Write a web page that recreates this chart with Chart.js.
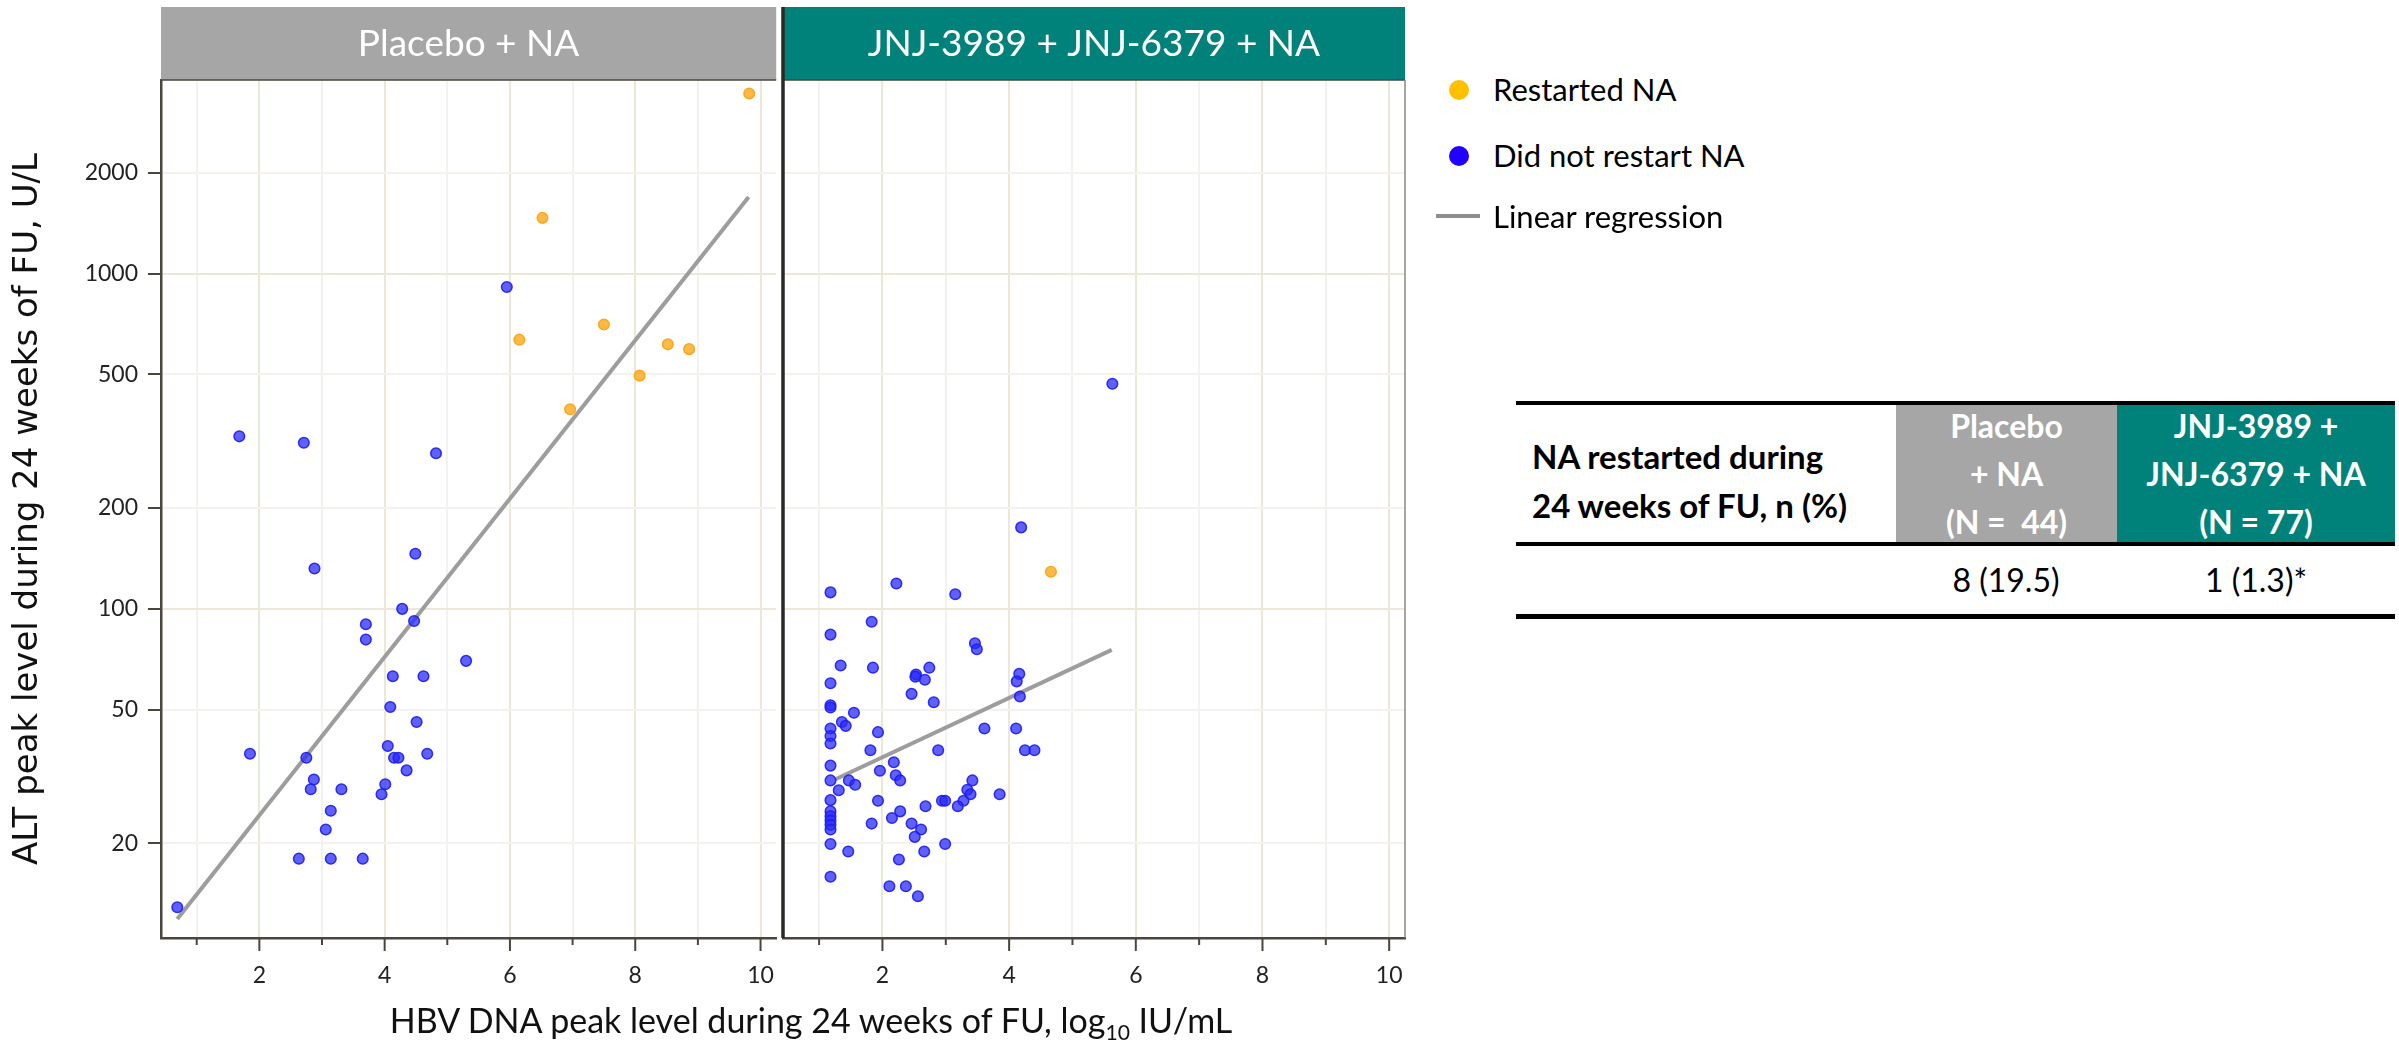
<!DOCTYPE html>
<html>
<head>
<meta charset="utf-8">
<script src="https://cdn.jsdelivr.net/npm/chart.js@4.4.1/dist/chart.umd.min.js"></script>
<style>
  html, body { margin: 0; padding: 0; background: #fff; }
  body { width: 2399px; height: 1041px; position: relative; overflow: hidden; font-family: Lato, "Open Sans", sans-serif; color: #000; }
  canvas { position: absolute; top: 0; }
  #leftChart { left: 0; }
  #rightChart { left: 763px; }
  .abs { position: absolute; }
  #xTitle { left: 361px; top: 1002px; width: 900px; text-align: center; font-size: 34px; line-height: 36px; color: #111; white-space: nowrap; }
  #xTitle sub { font-size: 0.62em; vertical-align: -0.35em; line-height: 0; }
  .dot { position: absolute; width: 20px; height: 20px; border-radius: 50%; }
  .lg { position: absolute; left: 1493px; font-size: 31px; line-height: 36px; transform: translateY(-50%); white-space: nowrap; }
  .rule { position: absolute; left: 1516px; width: 879px; background: #000; }
  .cell { position: absolute; top: 405px; height: 138px; color: #fff; font-weight: 700; font-size: 32px; line-height: 48px; text-align: center; display: flex; flex-direction: column; justify-content: center; }
  .rowlbl { position: absolute; left: 1532px; top: 432px; font-weight: 700; font-size: 33px; line-height: 49px; white-space: nowrap; }
  .val { position: absolute; top: 562px; font-size: 32px; line-height: 36px; text-align: center; white-space: nowrap; }
</style>
</head>
<body>
<canvas id="leftChart" width="783" height="1041"></canvas>
<canvas id="rightChart" width="680" height="1041"></canvas>

<div id="xTitle" class="abs">HBV DNA peak level during 24 weeks of FU, log<sub>10</sub> IU/mL</div>

<!-- legend -->
<div class="dot" style="left:1449px; top:80px; background:#ffc000;"></div>
<div class="lg" style="top:89px;">Restarted NA</div>
<div class="dot" style="left:1449px; top:146px; background:#2200ff;"></div>
<div class="lg" style="top:155px;">Did not restart NA</div>
<div class="abs" style="left:1436px; top:214px; width:44px; height:4px; background:#8e8e8e;"></div>
<div class="lg" style="top:216px;">Linear regression</div>

<!-- summary table -->
<div class="rule" style="top:401px; height:4px;"></div>
<div class="cell" style="left:1896px; width:221px; background:#a6a6a6;"><div>Placebo</div><div>+ NA</div><div>(N =&nbsp; 44)</div></div>
<div class="cell" style="left:2117px; width:278px; background:#00827a;"><div>JNJ-3989 +</div><div>JNJ-6379 + NA</div><div>(N = 77)</div></div>
<div class="rowlbl">NA restarted during<br>24 weeks of FU, n (%)</div>
<div class="rule" style="top:542px; height:4px;"></div>
<div class="val" style="left:1906px; width:200px;">8 (19.5)</div>
<div class="val" style="left:2156px; width:200px;">1 (1.3)*</div>
<div class="rule" style="top:614px; height:5px;"></div>

<script>
// values
const xTickValues = [1, 2, 3, 4, 5, 6, 7, 8, 9, 10];
const yTickValues = [20, 50, 100, 200, 500, 1000, 2000];
const panelTitles = ["Placebo + NA", "JNJ-3989 + JNJ-6379 + NA"];

// Placebo + NA panel
const placeboRestartX = [9.82, 6.52, 6.15, 7.50, 8.52, 8.86, 8.07, 6.96];
const placeboRestartY = [3440, 1465, 635, 705, 615, 595, 496, 394];
const placeboNoRestartX = [5.95, 1.68, 2.71, 4.82, 4.49, 2.88, 4.28, 4.47, 3.70, 3.70, 5.30,
  4.13, 4.62, 4.09, 4.51, 1.85, 2.75, 4.05, 4.15, 4.22, 4.68, 4.35, 2.87, 2.82, 3.31, 4.01,
  3.95, 3.14, 3.06, 2.63, 3.14, 3.65, 0.69];
const placeboNoRestartY = [912, 327, 313, 291, 146, 132, 100, 92, 90, 81, 70,
  63, 63, 51, 46, 37, 36, 39, 36, 36, 37, 33, 31, 29, 29, 30,
  28, 25, 22, 18, 18, 18, 12.9];
const placeboFitX = [0.69, 9.81];
const placeboFitY = [11.9, 1690];

// JNJ-3989 + JNJ-6379 + NA panel
const activeRestartX = [4.66];
const activeRestartY = [129];
const activeNoRestartX = [5.63, 4.19, 1.18, 2.22, 3.15,
  1.83, 1.18, 3.46, 3.49, 1.34, 1.85, 2.74, 2.53, 2.52, 2.67, 4.16, 4.12, 1.18, 2.46, 4.17,
  2.81, 1.18, 1.18, 1.55, 1.36, 1.42, 1.18, 1.18, 1.18, 1.93, 3.61, 4.11, 1.81, 2.88, 4.25,
  4.40, 1.18, 2.18,
  1.96, 1.18, 1.47, 1.57, 1.31, 2.21, 2.28, 3.42, 3.34, 3.39, 3.28, 3.19, 2.94, 2.99, 3.85,
  1.93, 2.68, 1.18, 1.18, 1.18, 1.18, 1.18, 1.18, 1.18, 2.28, 2.15, 2.46, 2.61, 2.51, 1.83,
  2.99, 1.46, 2.66, 2.26, 1.18, 2.11, 2.37, 2.56];
const activeNoRestartY = [469, 175, 112, 119, 110.6,
  91.6, 83.8, 79.0, 75.8, 67.8, 66.8, 66.8, 63.7, 62.8, 61.5, 64.0, 60.8, 60.0, 55.8, 54.8,
  52.7, 51.6, 50.8, 49.0, 46.0, 44.8, 44.0, 41.8, 39.7, 42.9, 44.0, 44.0, 37.9, 37.9, 37.9,
  37.9, 34.1, 34.9,
  32.9, 30.8, 30.8, 29.9, 28.8, 31.9, 30.8, 30.8, 28.9, 28.0, 26.8, 25.8, 26.8, 26.8, 28.0,
  26.8, 25.8, 26.9, 24.9, 24.1, 23.4, 22.7, 22.0, 19.9, 24.9, 23.8, 22.9, 22.0, 20.9, 22.9,
  19.9, 18.9, 18.9, 17.9, 15.9, 14.9, 14.9, 13.9];
const activeFitX = [1.25, 5.62];
const activeFitY = [31, 75.5];

const ORANGE = "rgba(255,168,22,0.8)";
const BLUE = "rgba(40,40,255,0.74)";
const AXIS_DARK = "#4a463d";

function toPoints(xs, ys) {
  return xs.map((x, i) => ({ x: x, y: ys[i] }));
}

// header strip, x tick marks and frame lines
const panelDecor = {
  id: "panelDecor",
  afterDraw(chart, args, opts) {
    const { ctx, chartArea: a } = chart;
    const xs = chart.scales.x;
    ctx.save();
    ctx.fillStyle = opts.color;
    ctx.fillRect(a.left, 7, a.right - a.left, a.top - 7);
    ctx.fillStyle = "#fff";
    ctx.font = "37px Lato";
    ctx.textAlign = "center";
    ctx.textBaseline = "middle";
    ctx.fillText(opts.title, (a.left + a.right) / 2, 44);

    ctx.strokeStyle = AXIS_DARK;
    ctx.lineWidth = 2;
    xTickValues.forEach((v) => {
      const px = xs.getPixelForValue(v);
      const len = v % 2 === 0 ? 13 : 7;
      ctx.beginPath();
      ctx.moveTo(px, a.bottom);
      ctx.lineTo(px, a.bottom + len);
      ctx.stroke();
    });

    ctx.lineWidth = 1.5;
    ctx.beginPath();
    ctx.moveTo(a.left, a.top);
    ctx.lineTo(a.right, a.top);
    ctx.stroke();

    if (opts.divider) {
      ctx.strokeStyle = "#2b2723";
      ctx.lineWidth = 3.5;
      ctx.beginPath();
      ctx.moveTo(a.left, 7);
      ctx.lineTo(a.left, a.bottom);
      ctx.stroke();
      ctx.strokeStyle = "#8a8780";
      ctx.lineWidth = 1.5;
      ctx.beginPath();
      ctx.moveTo(a.right, a.top);
      ctx.lineTo(a.right, a.bottom);
      ctx.stroke();
    }
    ctx.restore();
  },
};

function makeChart(canvasId, cfg) {
  const isLeft = cfg.showY;
  return new Chart(document.getElementById(canvasId), {
    type: "scatter",
    data: {
      datasets: [
        {
          label: "Restarted NA",
          data: toPoints(cfg.restartX, cfg.restartY),
          backgroundColor: ORANGE,
          borderColor: "rgba(250,165,30,0.95)",
          borderWidth: 1.5,
          pointRadius: 5.3,
        },
        {
          label: "Did not restart NA",
          data: toPoints(cfg.noRestartX, cfg.noRestartY),
          backgroundColor: BLUE,
          borderColor: "rgba(30,30,235,0.9)",
          borderWidth: 1.5,
          pointRadius: 5.3,
        },
        {
          label: "Linear regression",
          data: toPoints(cfg.fitX, cfg.fitY),
          showLine: true,
          borderColor: "#9d9d9d",
          borderWidth: 4,
          pointRadius: 0,
        },
      ],
    },
    options: {
      responsive: false,
      animation: false,
      events: [],
      layout: { padding: { top: 80, left: cfg.padLeft, right: cfg.padRight, bottom: 0 } },
      plugins: {
        legend: { display: false },
        tooltip: { enabled: false },
        panelDecor: { title: cfg.title, color: cfg.headerColor, divider: !isLeft },
      },
      scales: {
        x: {
          type: "linear",
          min: 0.43,
          max: 10.25,
          afterBuildTicks: (scale) => {
            scale.ticks = xTickValues.map((v) => ({ value: v }));
          },
          afterFit: (scale) => {
            scale.height = 103;
            scale.paddingLeft = 0;
            scale.paddingRight = 0;
          },
          ticks: {
            autoSkip: false,
            maxRotation: 0,
            padding: 11,
            color: "#222",
            font: { family: "Lato", size: 23 },
            callback: (v) => (v % 2 === 0 ? String(v) : ""),
          },
          grid: {
            color: (c) => (c.tick && c.tick.value % 2 === 0 ? "#ece8d8" : "#f3f2ee"),
            lineWidth: 2,
            tickLength: 13,
            tickColor: "rgba(0,0,0,0)",
          },
          border: { display: true, color: AXIS_DARK, width: 2.5 },
        },
        y: {
          type: "logarithmic",
          min: 10.44,
          max: 3776,
          afterBuildTicks: (scale) => {
            scale.ticks = yTickValues.map((v) => ({ value: v }));
          },
          afterFit: (scale) => {
            scale.width = isLeft ? 161 : 0;
            scale.paddingTop = 0;
            scale.paddingBottom = 0;
          },
          title: {
            display: isLeft,
            text: "ALT peak level during 24 weeks of FU, U/L",
            color: "#111",
            font: { family: "DejaVu Sans", size: 34 },
            padding: { top: 8, bottom: 0 },
          },
          ticks: {
            display: isLeft,
            padding: 10,
            color: "#222",
            font: { family: "Lato", size: 23 },
            callback: (v) => String(v),
          },
          grid: {
            color: (c) => (c.tick && (c.tick.value === 100 || c.tick.value === 1000) ? "#ece8d8" : "#f3f2ee"),
            lineWidth: 2,
            drawTicks: isLeft,
            tickLength: 13,
            tickColor: AXIS_DARK,
            tickWidth: 2,
          },
          border: { display: isLeft, color: AXIS_DARK, width: 2.5 },
        },
      },
    },
    plugins: [panelDecor],
  });
}

makeChart("leftChart", {
  showY: true,
  padLeft: 0,
  padRight: 0,
  title: panelTitles[0],
  headerColor: "#a6a6a6",
  restartX: placeboRestartX,
  restartY: placeboRestartY,
  noRestartX: placeboNoRestartX,
  noRestartY: placeboNoRestartY,
  fitX: placeboFitX,
  fitY: placeboFitY,
});

makeChart("rightChart", {
  showY: false,
  padLeft: 20,
  padRight: 38,
  title: panelTitles[1],
  headerColor: "#00827a",
  restartX: activeRestartX,
  restartY: activeRestartY,
  noRestartX: activeNoRestartX,
  noRestartY: activeNoRestartY,
  fitX: activeFitX,
  fitY: activeFitY,
});
</script>
</body>
</html>
